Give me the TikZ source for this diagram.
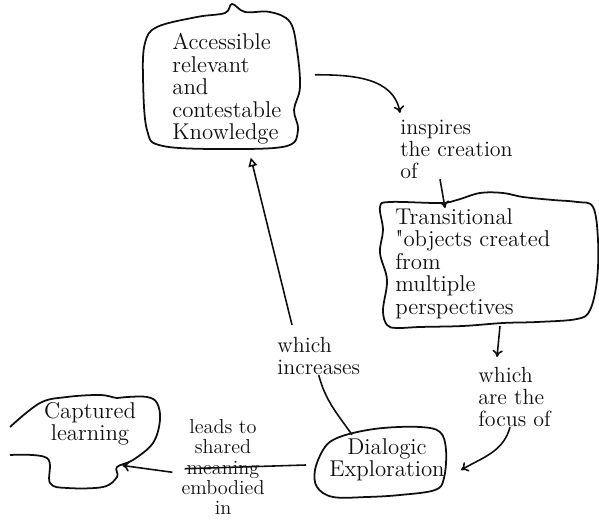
\documentclass[tikz,border=0pt]{standalone}
\usepackage{xcolor}
\usepackage{tikz}
\usetikzlibrary{arrows.meta,positioning,calc}
\definecolor{penInk}{RGB}{15,15,15}

\begin{document}
\begin{tikzpicture}[
    blob/.style={draw=penInk,line width=1pt,line join=round},
    idea/.style={font=\fontsize{13}{12.8}\selectfont,inner sep=0pt,text=penInk},
    lbl/.style={font=\fontsize{12.5}{12.5}\selectfont,inner sep=0pt,align=left,text=penInk},
    plain/.style={draw=penInk,line width=0.9pt},
    link/.style={plain,-{To[length=4pt,width=6pt]}},
    back/.style={plain,-{Triangle[open,length=5pt,width=5pt]}}]

    \useasboundingbox (0,0) rectangle (11.98,10.4);

    \node[idea,align=left,anchor=north west] (know) at (3.44,9.74)
      {Accessible\\relevant\\and\\contestable\\Knowledge};
    \node[idea,align=left,anchor=north west] (trans) at (7.9,6.24)
      {Transitional\\\textquotedbl objects created\\from\\multiple\\perspectives};
    \node[idea,align=center] (dial) at (7.74,1.2) {Dialogic\\Exploration};
    \node[idea,align=center] (capt) at (1.8,1.92) {Captured\\learning};

    \foreach \x/\y/\nm/\txt in {
      8.0/8.0/insp/{inspires\\the creation\\of},
      9.56/3.06/focus/{which\\are the\\focus of},
      5.54/3.66/incr/{which\\increases}}{
      \node[lbl,anchor=north west] (\nm) at (\x,\y) {\txt};
    }
    \node[lbl,align=center,font=\fontsize{11.5}{11.5}\selectfont] (lead) at (4.46,1.06)
      {leads to\\shared\\meaning\\embodied\\in};

    \draw[blob] plot[smooth cycle,tension=0.6] coordinates {
      (3.14,9.86) (3.94,10.06) (4.5,10.14) (4.64,10.32) (4.9,10.16) (5.4,10.16)
      (5.8,9.96) (5.94,9.4) (6.0,8.66) (5.88,8.2) (5.96,7.8) (5.74,7.48)
      (4.6,7.42) (3.26,7.48) (2.94,7.8) (2.86,8.86) (2.9,9.54)};
    \draw[blob] plot[smooth cycle,tension=0.6] coordinates {
      (7.6,6.26) (7.8,6.36) (8.8,6.34) (9.14,6.4) (9.6,6.54) (10.06,6.54)
      (10.46,6.46) (11.06,6.4) (11.54,6.36) (11.86,6.26) (11.96,5.6) (11.94,4.8)
      (11.8,4.2) (11.54,4.02) (10.74,3.96) (10.06,3.94) (9.26,3.88) (8.4,3.86)
      (7.94,3.84) (7.74,3.9) (7.66,4.2) (7.74,4.8) (7.6,5.34) (7.66,5.8)};
    \draw[blob] plot[smooth cycle,tension=0.6] coordinates {
      (6.46,1.4) (6.66,1.6) (7.06,1.74) (7.66,1.84) (8.4,1.86) (8.8,1.76)
      (8.92,1.4) (8.88,0.84) (8.7,0.6) (8.0,0.5) (7.34,0.46) (6.66,0.46)
      (6.34,0.66) (6.3,1.0)};
    \draw[blob] plot[smooth,tension=0.6] coordinates {
      (0.2,1.3) (0.94,1.24) (1.0,0.74) (1.34,0.64) (2.06,0.66) (2.34,0.86)
      (2.34,1.06) (2.66,1.2) (3.06,1.54) (3.2,2.0) (3.14,2.34) (2.94,2.46)
      (2.54,2.46) (2.34,2.44) (2.0,2.5) (1.34,2.46) (0.8,2.34) (0.2,1.86)};

    \draw[link] ([xshift=19pt,yshift=8pt]know.east) to[out=0,in=100]
      ([yshift=4pt]insp.north west);
    \draw[link] ([xshift=0.8cm]insp.south west) -- ([xshift=1cm]trans.north west);
    \draw[link] ([xshift=2.1cm,yshift=-4pt]trans.south west)
      -- ([shift={(0.38,0.2)}]focus.north west);
    \draw[link] ([xshift=0.64cm]focus.south west) to[out=-105,in=30]
      ([shift={(0.32,-0.2)}]dial.east);
    \draw[plain] ([xshift=-0.7cm,yshift=2pt]dial.north) to[out=125,in=-75] (incr.south);
    \draw[back] ([shift={(0.3,0.24)}]incr.north west) -- ([shift={(0.48,-0.26)}]know.south);
    \draw[plain] ([shift={(-0.46,-0.1)}]dial.west) -- ([xshift=2pt,yshift=-1pt]lead.west);
    \draw[link] ([xshift=-5pt,yshift=-3pt]lead.west)
      -- ([shift={(-0.28,-0.39)}]capt.south east);

\end{tikzpicture}
\end{document}
